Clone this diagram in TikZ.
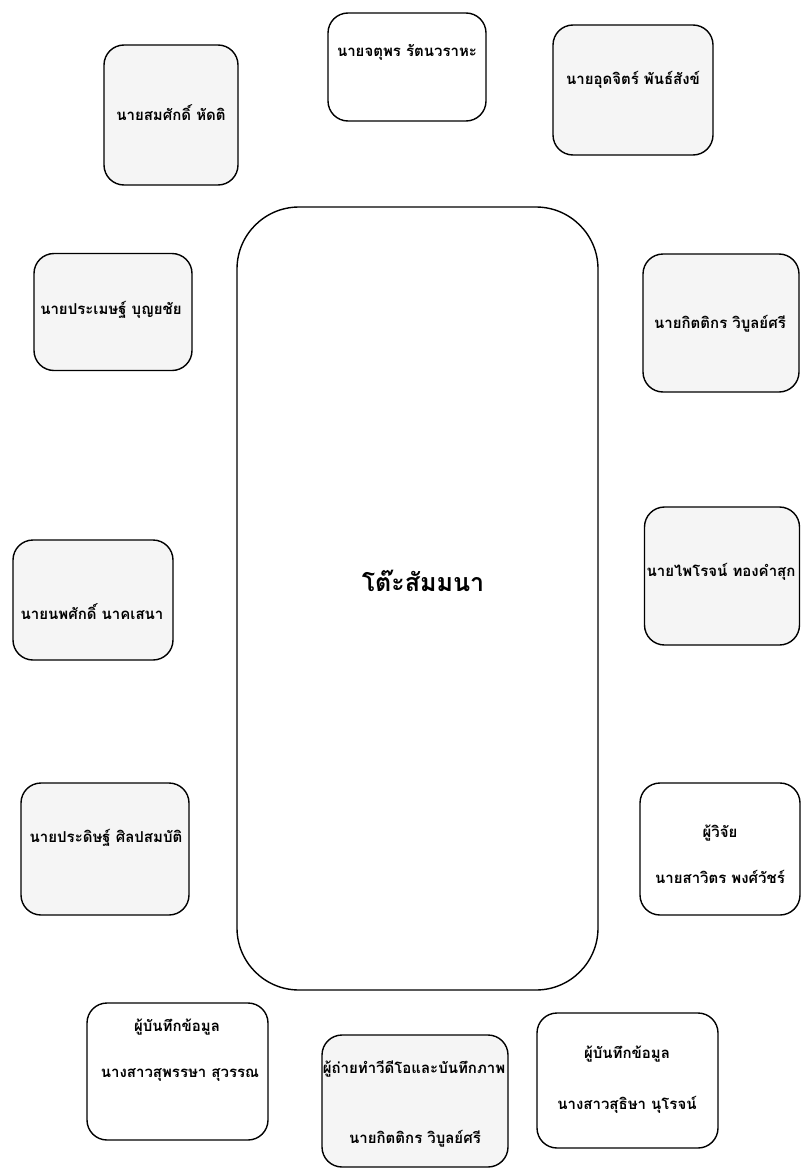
\documentclass[tikz,border=0pt]{standalone}
\usepackage{fontspec}
\newfontfamily\thaifont[Script=Thai]{Loma}
\usetikzlibrary{positioning}
\tikzset{
    % Seats and table
    seat/.style={draw, line width=1.4pt, rounded corners=20pt, inner sep=0pt},
    scan/.style={fill=black!4},
    table/.style={draw, line width=1.4pt, rounded corners=62pt, inner sep=0pt},
    %
    % Texts
    who/.style={inner sep=0pt, font=\thaifont\bfseries\fontsize{15}{18}\selectfont},
    title/.style={inner sep=0pt, font=\thaifont\bfseries\fontsize{25}{30}\selectfont}
}

\begin{document}
\begin{tikzpicture}[x=1pt, y=-1pt]
    \useasboundingbox (0,0) rectangle (803,1172);

    % table
    \node[table, minimum width=361pt, minimum height=783pt] (table) at (417.5,598.5) {};
    \node[title] (tabletext) at (423,581) {โต๊ะสัมมนา};

    % top row
    \node[seat, scan, minimum width=134pt, minimum height=140pt] (somsak) at (171,115) {};
    \node[who] (somsaktext) at (171,113) {นายสมศักดิ์ หัดติ};
    \node[seat, minimum width=158pt, minimum height=108pt] (jatuporn) at (407,67) {};
    \node[who] (jatuporntext) at (407,52) {นายจตุพร รัตนวราหะ};
    \node[seat, scan, minimum width=160pt, minimum height=130pt] (udjit) at (633,90) {};
    \node[who] (udjittext) at (633,80) {นายอุดจิตร์ พันธ์สังข์};

    % left side
    \node[seat, scan, minimum width=158pt, minimum height=117pt] (pramet) at (113,312) {};
    \node[who] (prametext) at (111,310) {นายประเมษฐ์ บุญยชัย};
    \node[seat, scan, minimum width=160pt, minimum height=120pt] (noppasak) at (93,600) {};
    \node[who] (noppasaktext) at (92,612) {นายนพศักดิ์ นาคเสนา};
    \node[seat, scan, minimum width=168pt, minimum height=132pt] (pradit) at (105,849) {};
    \node[who] (pradittext) at (106,838) {นายประดิษฐ์ ศิลปสมบัติ};

    % right side
    \node[seat, scan, minimum width=156pt, minimum height=138pt] (kittikorn) at (721,323) {};
    \node[who] (kittikorntext) at (720,324) {นายกิตติกร วิบูลย์ศรี};
    \node[seat, scan, minimum width=155pt, minimum height=138pt] (pairoj) at (722,576) {};
    \node[who] (pairojtext) at (721,572) {นายไพโรจน์ ทองคำสุก};
    \node[seat, minimum width=160pt, minimum height=132pt] (sawit) at (720,849) {};
    \node[who] (sawittext) at (720,833) {ผู้วิจัย};
    \node[who] (sawitname) at (720,877) {นายสาวิตร พงศ์วัชร์};

    % bottom row
    \node[seat, minimum width=181pt, minimum height=137pt] (supansa) at (177.5,1071.5) {};
    \node[who] (supansatext) at (177,1027) {ผู้บันทึกข้อมูล};
    \node[who] (supansaname) at (180,1075) {นางสาวสุพรรษา สุวรรณ};
    \node[seat, scan, minimum width=186pt, minimum height=132pt] (video) at (415,1101) {};
    \node[who] (videotext) at (414,1069) {ผู้ถ่ายทำวีดีโอและบันทึกภาพ};
    \node[who] (videoname) at (415,1139) {นายกิตติกร วิบูลย์ศรี};
    \node[seat, minimum width=181pt, minimum height=135pt] (sutisa) at (627.5,1080.5) {};
    \node[who] (sutisatext) at (627,1054) {ผู้บันทึกข้อมูล};
    \node[who] (sutisaname) at (627,1105) {นางสาวสุธิษา นุโรจน์};
\end{tikzpicture}
\end{document}
